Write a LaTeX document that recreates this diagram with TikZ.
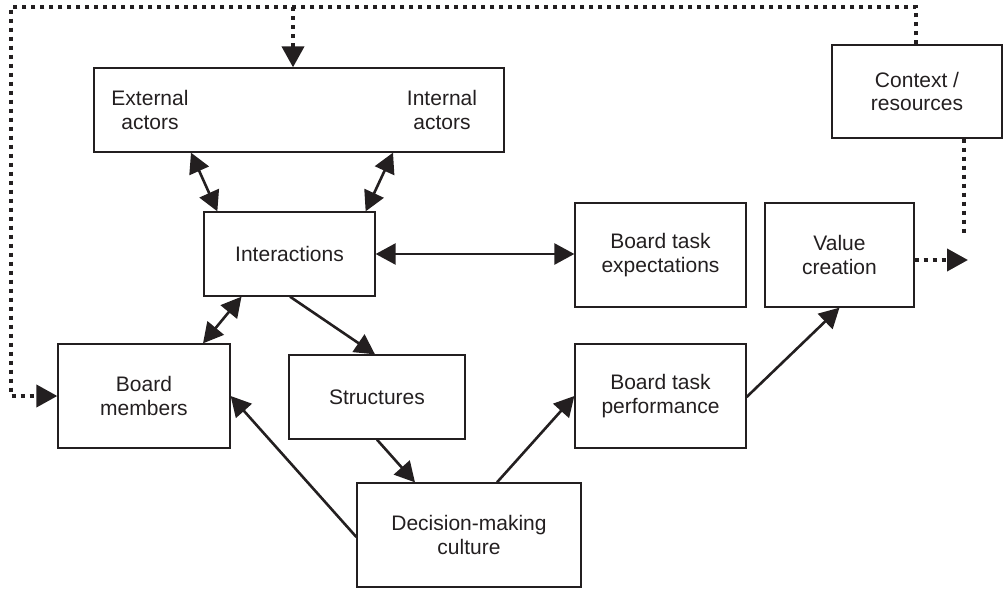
\documentclass[tikz,border=0pt]{standalone}
\usepackage{fontspec}
\setmainfont{Liberation Sans}
\usetikzlibrary{arrows.meta,calc}
\definecolor{ink}{HTML}{231F20}
\begin{document}
\begin{tikzpicture}[x=1pt,y=-1pt,
  box/.style={draw=ink,line width=1.3pt,inner sep=0pt,align=center,text=ink,
    font=\fontsize{21}{23.5}\selectfont},
  lbl/.style={inner sep=0pt,align=center,text=ink,font=\fontsize{21}{23.5}\selectfont},
  link/.style={draw=ink,line width=2.6pt},
  tip/.style={-{Triangle[length=20pt,width=21pt]}},
  bitip/.style={{Triangle[length=20pt,width=21pt]}-{Triangle[length=20pt,width=21pt]}},
  dotline/.style={draw=ink,line width=4pt,dash pattern=on 4pt off 5pt},
  dottip/.style={-{Triangle[length=21pt,width=22pt]}}]
\useasboundingbox (0,0) rectangle (1004,589);

% boxes
\node[box,minimum width=410pt,minimum height=84pt] (act) at (299,110) {};
\node[lbl] (ext) at (150,110) {External\\actors};
\node[lbl] (int) at (442,110) {Internal\\actors};
\node[box,minimum width=170pt,minimum height=93pt] (ctx) at (917,91.5) {Context /\\resources};
\node[box,minimum width=171pt,minimum height=84pt] (inter) at (289.5,254) {Interactions};
\node[box,minimum width=171pt,minimum height=104pt] (bte) at (660.5,255) {Board task\\expectations};
\node[box,minimum width=149pt,minimum height=104pt] (val) at (839.5,255) {Value\\creation};
\node[box,minimum width=172pt,minimum height=104pt] (bm) at (144,396) {Board\\members};
\node[box,minimum width=176pt,minimum height=84pt] (str) at (377,397) {Structures};
\node[box,minimum width=171pt,minimum height=104pt] (btp) at (660.5,396) {Board task\\performance};
\node[box,minimum width=224pt,minimum height=104pt] (dmc) at (469,535) {Decision-making\\culture};

% solid connectors
\draw[link,bitip] ([xshift=-108pt]act.south) -- ([xshift=14pt]inter.north west);
\draw[link,bitip] ([xshift=94pt]act.south) -- ([xshift=-10pt]inter.north east);
\draw[link,bitip] (inter.east) -- (inter.east -| bte.west);
\draw[link,bitip] ([xshift=-48pt]inter.south) -- ([xshift=59pt]bm.north);
\draw[link,tip] ([xshift=0.5pt]inter.south) -- ([xshift=-2pt]str.north);
\draw[link,tip] (str.south) -- ([xshift=-54pt]dmc.north);
\draw[link,tip] ([yshift=-2pt]dmc.west) -- (bm.east);
\draw[link,tip] ([xshift=28pt]dmc.north) -- (btp.west);
\draw[link,tip] ([yshift=-1pt]btp.east) -- (val.south);

% dotted feedback lines
\coordinate (tl) at (11,7);
\coordinate (branch) at (293,7);
\coordinate (ctxend) at (964,237);
\coordinate (valend) at (968,260);
\draw[dotline,dottip] ([xshift=-1pt]ctx.north) |- (tl) |- (bm.west);
\draw[dotline,dottip] (branch) -- (branch |- act.north);
\draw[dotline] (ctxend |- ctx.south) -- (ctxend);
\draw[dotline,dottip] (valend -| val.east) -- (valend);
\end{tikzpicture}
\end{document}
